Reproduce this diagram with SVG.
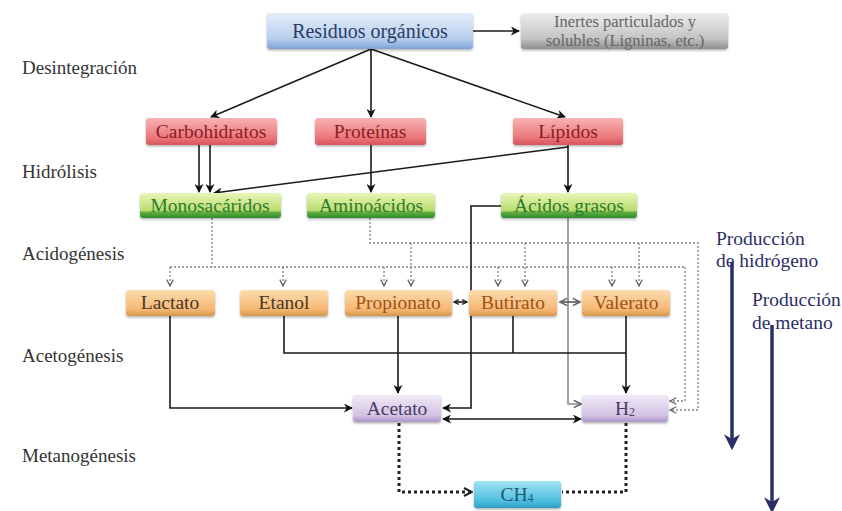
<svg xmlns="http://www.w3.org/2000/svg" width="842" height="511" viewBox="0 0 842 511">
<defs>
<linearGradient id="gBlue" x1="0" y1="0" x2="0" y2="1"><stop offset="0" stop-color="#e3eefa"/><stop offset="0.7" stop-color="#b9d0ef"/><stop offset="1" stop-color="#7ea2d6"/></linearGradient>
<linearGradient id="gGray" x1="0" y1="0" x2="0" y2="1"><stop offset="0" stop-color="#ededed"/><stop offset="0.7" stop-color="#c4c4c4"/><stop offset="1" stop-color="#8e8e8e"/></linearGradient>
<linearGradient id="gRed" x1="0" y1="0" x2="0" y2="1"><stop offset="0" stop-color="#f7b3b3"/><stop offset="0.75" stop-color="#ea7479"/><stop offset="1" stop-color="#d6545c"/></linearGradient>
<linearGradient id="gGreen" x1="0" y1="0" x2="0" y2="1"><stop offset="0" stop-color="#e9f5b9"/><stop offset="0.7" stop-color="#b8dc6e"/><stop offset="0.78" stop-color="#5fae3e"/><stop offset="1" stop-color="#2f8a2f"/></linearGradient>
<linearGradient id="gOrange" x1="0" y1="0" x2="0" y2="1"><stop offset="0" stop-color="#fddcb0"/><stop offset="0.75" stop-color="#f5b872"/><stop offset="1" stop-color="#d89650"/></linearGradient>
<linearGradient id="gLav" x1="0" y1="0" x2="0" y2="1"><stop offset="0" stop-color="#f0e9f6"/><stop offset="0.75" stop-color="#d3c3e4"/><stop offset="1" stop-color="#ac95c8"/></linearGradient>
<linearGradient id="gCyan" x1="0" y1="0" x2="0" y2="1"><stop offset="0" stop-color="#a4e4f4"/><stop offset="0.75" stop-color="#4dbde0"/><stop offset="1" stop-color="#2a9cc4"/></linearGradient>
<marker id="aB" viewBox="0 0 10 10" refX="9" refY="5" markerWidth="9" markerHeight="9" markerUnits="userSpaceOnUse" orient="auto-start-reverse"><path d="M0,0 L10,5 L0,10 L3,5 z" fill="#111"/></marker>
<marker id="aS" viewBox="0 0 10 10" refX="9" refY="5" markerWidth="6" markerHeight="6" markerUnits="userSpaceOnUse" orient="auto-start-reverse"><path d="M1,1 L9,5 L1,9" fill="none" stroke="#222" stroke-width="2.2"/></marker>
<marker id="aG" viewBox="0 0 10 10" refX="9" refY="5" markerWidth="9" markerHeight="9" markerUnits="userSpaceOnUse" orient="auto-start-reverse"><path d="M1,1 L9,5 L1,9" fill="none" stroke="#666" stroke-width="1.8"/></marker>
<marker id="aD" viewBox="0 0 10 10" refX="9" refY="5" markerWidth="8" markerHeight="8" markerUnits="userSpaceOnUse" orient="auto"><path d="M1,1 L9,5 L1,9" fill="none" stroke="#666" stroke-width="1.6"/></marker>
<marker id="aT" viewBox="0 0 10 10" refX="9" refY="5" markerWidth="10" markerHeight="10" markerUnits="userSpaceOnUse" orient="auto"><path d="M1,1 L9,5 L1,9" fill="none" stroke="#222" stroke-width="2"/></marker>
<marker id="aN" viewBox="0 0 10 10" refX="8" refY="5" markerWidth="16" markerHeight="16" markerUnits="userSpaceOnUse" orient="auto"><path d="M0,0 L10,5 L0,10 L3,5 z" fill="#2b2f66"/></marker>
<filter id="sh" x="-5%" y="-10%" width="110%" height="130%"><feDropShadow dx="0" dy="1.5" stdDeviation="1.2" flood-color="#000" flood-opacity="0.3"/></filter>
</defs>
<style>
.box{filter:url(#sh)}
.t{text-anchor:middle;dominant-baseline:central;font-size:19.5px}
.lab{font-size:19px;fill:#333}
.side{font-size:19.5px;fill:#2b2f66}
.ln{fill:none;stroke:#1a1a1a;stroke-width:1.6}
.gl{fill:none;stroke:#8a8a8a;stroke-width:1.6}
.dt{fill:none;stroke:#808080;stroke-width:1.3;stroke-dasharray:2 2}
.th{fill:none;stroke:#222;stroke-width:3;stroke-dasharray:3 3}
.nv{fill:none;stroke:#2b2f66;stroke-width:3.5}
</style>

<g font-family="Liberation Serif, Times New Roman, DejaVu Serif, serif">
<g id="labels">
<text class="lab" x="22" y="74">Desintegración</text>
<text class="lab" x="22" y="178">Hidrólisis</text>
<text class="lab" x="22" y="260">Acidogénesis</text>
<text class="lab" x="22" y="362">Acetogénesis</text>
<text class="lab" x="22" y="462">Metanogénesis</text>
</g>

<g id="connectors">
<line class="ln" x1="472" y1="31" x2="519" y2="31" marker-end="url(#aB)"/>
<line class="ln" x1="371" y1="49" x2="211" y2="117" marker-end="url(#aB)"/>
<line class="ln" x1="371" y1="49" x2="371" y2="117" marker-end="url(#aB)"/>
<line class="ln" x1="371" y1="49" x2="565" y2="117" marker-end="url(#aB)"/>
<line class="ln" x1="199" y1="145" x2="199" y2="192" marker-end="url(#aB)"/>
<line class="ln" x1="210" y1="145" x2="210" y2="192" marker-end="url(#aB)"/>
<line class="ln" x1="371" y1="145" x2="371" y2="192" marker-end="url(#aB)"/>
<line class="ln" x1="568" y1="145" x2="568" y2="192" marker-end="url(#aB)"/>
<line class="ln" x1="568" y1="147" x2="214" y2="193" marker-end="url(#aB)"/>
<path class="dt" d="M212,218 V267"/>
<path class="dt" d="M170,267 H685"/>
<path class="dt" d="M170,267 V286" marker-end="url(#aD)"/>
<path class="dt" d="M283,267 V286" marker-end="url(#aD)"/>
<path class="dt" d="M384,267 V286" marker-end="url(#aD)"/>
<path class="dt" d="M498,267 V286" marker-end="url(#aD)"/>
<path class="dt" d="M612,267 V286" marker-end="url(#aD)"/>
<path class="dt" d="M685,267 V401 H670" marker-end="url(#aD)"/>
<path class="dt" d="M370,218 V243 H698 V410 H670" marker-end="url(#aD)"/>
<path class="dt" d="M411,243 V286" marker-end="url(#aD)"/>
<path class="dt" d="M525,243 V286" marker-end="url(#aD)"/>
<path class="dt" d="M639,243 V286" marker-end="url(#aD)"/>
<path class="ln" d="M501,206 H471 V408 H443" marker-end="url(#aB)"/>
<path class="gl" d="M568,218 V404 H581" marker-end="url(#aG)"/>
<line class="ln" x1="454" y1="302" x2="467" y2="302" stroke-width="1.4" marker-start="url(#aS)" marker-end="url(#aS)"/>
<line class="gl" x1="560" y1="302" x2="580" y2="302" style="stroke:#555" marker-start="url(#aG)" marker-end="url(#aG)"/>
<path class="ln" d="M170,316 V408 H352" marker-end="url(#aB)"/>
<path class="ln" d="M284,316 V353 H626"/>
<path class="ln" d="M513,316 V353"/>
<path class="ln" d="M626,316 V393" marker-end="url(#aB)"/>
<path class="ln" d="M398,316 V393" marker-end="url(#aB)"/>
<line class="ln" x1="443" y1="419" x2="581" y2="419" marker-start="url(#aB)" marker-end="url(#aB)"/>
<path class="th" d="M399,423 V492 H472" marker-end="url(#aT)"/>
<path class="th" d="M626,423 V492 H562"/>
<line class="nv" x1="732" y1="262" x2="732" y2="447" marker-end="url(#aN)"/>
<line class="nv" x1="772" y1="325" x2="772" y2="510" marker-end="url(#aN)"/>
</g>

<g id="residuos"><rect class="box" x="267" y="13" width="206" height="36" rx="3" fill="url(#gBlue)"/><text class="t" x="370" y="31" style="font-size:20px" fill="#2c3b63">Residuos orgánicos</text></g>
<g id="inertes"><rect class="box" x="521" y="13" width="207" height="36" rx="3" fill="url(#gGray)"/><text class="t" x="625" y="21.5" style="font-size:16.5px" fill="#666">Inertes particulados y</text><text class="t" x="625" y="40" style="font-size:16.5px" fill="#666">solubles (Ligninas, etc.)</text></g>

<g id="carbohidratos"><rect class="box" x="146" y="118" width="131" height="27" rx="3" fill="url(#gRed)"/><text class="t" x="211" y="131" fill="#8a1c24">Carbohidratos</text></g>
<g id="proteinas"><rect class="box" x="315" y="118" width="111" height="27" rx="3" fill="url(#gRed)"/><text class="t" x="370" y="131" fill="#8a1c24">Proteínas</text></g>
<g id="lipidos"><rect class="box" x="513" y="118" width="110" height="27" rx="3" fill="url(#gRed)"/><text class="t" x="568" y="131" fill="#8a1c24">Lípidos</text></g>

<g id="monosacaridos"><rect class="box" x="140" y="193" width="141" height="25" rx="3" fill="url(#gGreen)"/><text class="t" x="210" y="205" fill="#2e7a2e">Monosacáridos</text></g>
<g id="aminoacidos"><rect class="box" x="307" y="193" width="128" height="25" rx="3" fill="url(#gGreen)"/><text class="t" x="371" y="205" fill="#2e7a2e">Aminoácidos</text></g>
<g id="acidosgrasos"><rect class="box" x="501" y="193" width="136" height="25" rx="3" fill="url(#gGreen)"/><text class="t" x="569" y="205" fill="#2e7a2e">Ácidos grasos</text></g>

<g id="lactato"><rect class="box" x="126" y="290" width="89" height="26" rx="3" fill="url(#gOrange)"/><text class="t" x="170" y="302" fill="#4a3626">Lactato</text></g>
<g id="etanol"><rect class="box" x="240" y="290" width="88" height="26" rx="3" fill="url(#gOrange)"/><text class="t" x="284" y="302" fill="#4a3626">Etanol</text></g>
<g id="propionato"><rect class="box" x="345" y="290" width="107" height="26" rx="3" fill="url(#gOrange)"/><text class="t" x="398" y="302" fill="#a0501a">Propionato</text></g>
<g id="butirato"><rect class="box" x="469" y="290" width="88" height="26" rx="3" fill="url(#gOrange)"/><text class="t" x="513" y="302" fill="#a0501a">Butirato</text></g>
<g id="valerato"><rect class="box" x="582" y="290" width="88" height="26" rx="3" fill="url(#gOrange)"/><text class="t" x="626" y="302" fill="#a0501a">Valerato</text></g>

<g id="acetato"><rect class="box" x="353" y="395" width="88" height="27" rx="3" fill="url(#gLav)"/><text class="t" x="397" y="408" fill="#4b3a66">Acetato</text></g>
<g id="h2"><rect class="box" x="582" y="395" width="86" height="27" rx="3" fill="url(#gLav)"/><text class="t" x="625" y="408" fill="#4b3a66">H<tspan font-size="12" dy="4">2</tspan></text></g>

<g id="ch4"><rect class="box" x="474" y="481" width="87" height="27" rx="3" fill="url(#gCyan)"/><text class="t" x="517" y="494" fill="#1b5a78">CH<tspan font-size="12" dy="4">4</tspan></text></g>

<g id="produccion">
<text class="side" x="716" y="245">Producción</text>
<text class="side" x="716" y="267">de hidrógeno</text>
<text class="side" x="752" y="306">Producción</text>
<text class="side" x="752" y="329">de metano</text>
</g>
</g>
</svg>
